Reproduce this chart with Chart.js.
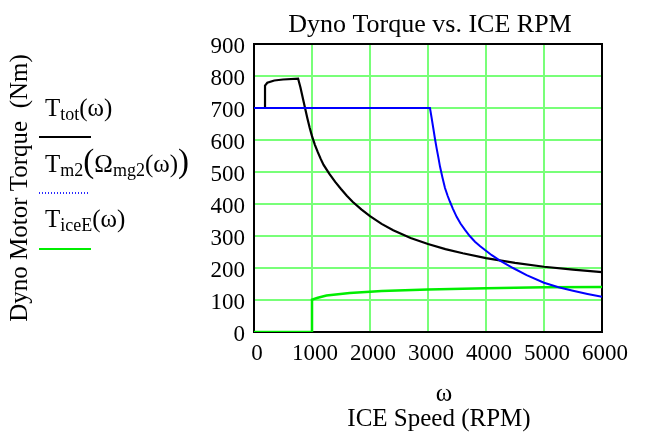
<!DOCTYPE html>
<html lang="en">
<head>
  <meta charset="UTF-8">
  <title>Dyno Torque vs. ICE RPM</title>
  <script src="https://cdn.jsdelivr.net/npm/chart.js"></script>
  <style>
    body { margin: 0; background: #fff; }
    .wrap { position: relative; width: 645px; height: 433px; }
    .leg {
      position: absolute;
      left: 45px;
      font-family: 'Liberation Serif', 'Times New Roman', serif;
      font-size: 25px;
      line-height: 25px;
      white-space: nowrap;
      color: #000;
    }
    .leg .sub { font-size: 18px; line-height: 0; position: relative; top: 4px; }
    .leg .big { font-size: 33px; line-height: 0; }
    .swatch { position: absolute; left: 39px; }
  </style>
</head>
<body>
  <div class="wrap">
    <canvas id="chart" width="645" height="433"></canvas>

    <div class="leg" style="top:95px">T<span class="sub">tot</span>(ω)</div>
    <div class="swatch" style="top:136px; width:52px; height:2px; background:#000;"></div>

    <div class="leg" style="top:151px">T<span class="sub">m2</span><span class="big">(</span>Ω<span class="sub">mg2</span>(ω)<span class="big">)</span></div>
    <div class="swatch" style="top:192px; width:49px; height:2px; background:repeating-linear-gradient(to right, #2a2aff 0 1.5px, transparent 1.5px 3px);"></div>

    <div class="leg" style="top:206px">T<span class="sub">iceE</span>(ω)</div>
    <div class="swatch" style="top:248px; width:52px; height:2px; background:#00ee00;"></div>
  </div>

  <script>
    // values (RPM -> Nm)
    const totRpm = [0, 190, 190, 230, 350, 500, 760, 800, 880, 920, 960, 1000, 1050, 1100, 1150, 1200, 1300, 1400, 1500, 1600, 1700, 1850, 2000, 2200, 2400, 2700, 3000, 3300, 3600, 4000, 4500, 5000, 5500, 6000];
    const totNm  = [700, 700, 770, 779, 786, 789, 792, 765, 700, 668, 638, 612, 585, 562, 541, 522, 494, 469, 447, 426, 407, 383, 362, 338, 318, 294, 275, 259, 246, 231, 216, 204, 195, 187];

    const m2Rpm = [0, 3034, 3060, 3092, 3120, 3149, 3180, 3207, 3250, 3293, 3340, 3379, 3430, 3494, 3560, 3638, 3720, 3810, 3900, 3983, 4100, 4241, 4466, 4700, 5000, 5250, 5500, 5750, 6000];
    const m2Nm  = [700, 700, 672, 636, 604, 574, 544, 517, 482, 450, 425, 407, 385, 360, 339, 319, 300, 282, 268, 256, 240, 223, 200, 178, 154, 140, 129, 119, 110];

    const iceRpm = [0, 1000, 1000, 1100, 1250, 1450, 1650, 2000, 2200, 3000, 4000, 5000, 6000];
    const iceNm  = [0, 0, 101, 107, 114, 118, 122, 126, 128, 133, 137, 140, 141];

    const xMin = 0, xMax = 6000, xStep = 1000;
    const yMin = 0, yMax = 900, yStep = 100;

    const chartTitle = 'Dyno Torque vs. ICE RPM';
    const xTitle = ['ω', 'ICE Speed (RPM)'];
    const yTitle = 'Dyno Motor Torque  (Nm)';

    const serif = "'Liberation Serif', 'Times New Roman', serif";
    const gridGreen = 'rgb(120,255,120)';

    function pts(xs, ys) {
      return xs.map((x, i) => ({ x: x, y: ys[i] }));
    }

    // frame box plus title / x-axis caption drawn where the original puts them
    const decor = {
      id: 'decor',
      beforeDatasetsDraw(chart) {
        const { ctx, chartArea: a } = chart;
        ctx.save();
        ctx.strokeStyle = '#000';
        ctx.lineWidth = 2;
        ctx.strokeRect(a.left, a.top, a.right - a.left, a.bottom - a.top);
        ctx.restore();
      },
      afterDraw(chart) {
        const { ctx, chartArea: a } = chart;
        const mid = (a.left + a.right) / 2;
        ctx.save();
        ctx.fillStyle = '#000';
        ctx.textAlign = 'center';
        ctx.textBaseline = 'alphabetic';
        ctx.font = '26px ' + serif;
        ctx.fillText(chartTitle, mid + 2, 32);
        ctx.font = '25px ' + serif;
        ctx.fillText(xTitle[0], mid + 16, 401);
        ctx.fillText(xTitle[1], mid + 11, 426);
        ctx.restore();
      }
    };

    Chart.defaults.font.family = serif;
    Chart.defaults.color = '#000';

    new Chart(document.getElementById('chart'), {
      type: 'line',
      data: {
        datasets: [
          {
            label: 'T_m2',
            data: pts(m2Rpm, m2Nm),
            borderColor: '#0000ff',
            borderWidth: 2,
            pointRadius: 0,
            tension: 0,
            order: 0
          },
          {
            label: 'T_tot',
            data: pts(totRpm, totNm),
            borderColor: '#000000',
            borderWidth: 2.2,
            pointRadius: 0,
            tension: 0,
            order: 1
          },
          {
            label: 'T_iceE',
            data: pts(iceRpm, iceNm),
            borderColor: '#00ee00',
            borderWidth: 2.5,
            pointRadius: 0,
            tension: 0,
            order: 2
          }
        ]
      },
      options: {
        responsive: false,
        animation: false,
        layout: { padding: { top: 44, right: 43, left: 0, bottom: 0 } },
        plugins: {
          legend: { display: false },
          title: { display: false },
          tooltip: { enabled: false }
        },
        scales: {
          x: {
            type: 'linear',
            min: xMin,
            max: xMax,
            ticks: { stepSize: xStep, font: { size: 23 }, padding: 8, labelOffset: 3, maxRotation: 0, callback: v => String(v) },
            grid: { color: gridGreen, lineWidth: 2, drawTicks: false },
            border: { display: false },
            afterFit(scale) { scale.height = 101; }
          },
          y: {
            min: yMin,
            max: yMax,
            ticks: { stepSize: yStep, font: { size: 23 }, padding: 9, labelOffset: 3, callback: v => String(v) },
            grid: { color: gridGreen, lineWidth: 2, drawTicks: false },
            border: { display: false },
            title: { display: true, text: yTitle, font: { size: 25 }, padding: { top: 5, bottom: 0 } },
            afterFit(scale) { scale.width = 254; }
          }
        }
      },
      plugins: [decor]
    });
  </script>
</body>
</html>
